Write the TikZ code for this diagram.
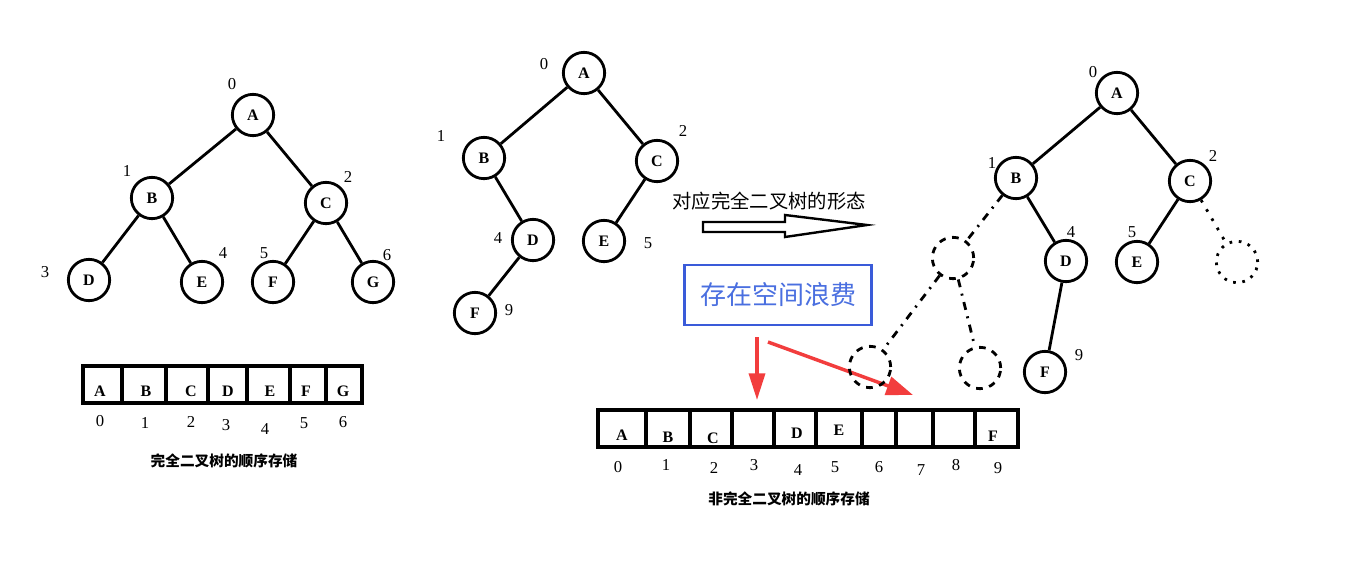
\documentclass[tikz,border=0pt]{standalone}
\usepackage{fontspec}
\setmainfont{Liberation Serif}
\newfontfamily\cjk{Noto Sans CJK SC}
\usetikzlibrary{arrows.meta}
\definecolor{boxblue}{HTML}{3A5BD9}
\definecolor{txtblue}{HTML}{4A6FE0}
\definecolor{warnred}{HTML}{F23D3D}

\tikzset{
  vtx/.style={circle, draw, line width=2.1pt, minimum size=31pt, inner sep=0pt,
    font=\bfseries\fontsize{12}{14}\selectfont},
  ghost/.style={circle, draw, line width=2.1pt, minimum size=31pt, inner sep=0pt,
    dash pattern=on 5pt off 5pt},
  link/.style={line width=2.1pt},
  ghostlink/.style={line width=2.1pt, dash pattern=on 6pt off 5pt on 1.5pt off 5pt},
  idx/.style={font=\fontsize{12.5}{14}\selectfont, inner sep=0pt},
  cellval/.style={font=\bfseries\fontsize{12}{14}\selectfont, inner sep=0pt},
  captxt/.style={font=\cjk\bfseries\fontsize{11}{13}\selectfont},
  arr/.style={line width=2.4pt},
  redarrow/.style={draw=warnred, line width=2.6pt}
}

\begin{document}
\begin{tikzpicture}[x=0.75pt, y=-0.75pt]
  \fill[white] (0,0) rectangle (1348,564);
  \useasboundingbox (0,0) rectangle (1348,564);

  % complete tree
  \node[vtx] (lA) at (253,115) {A};
  \node[vtx] (lB) at (152,198) {B};
  \node[vtx] (lC) at (326,203) {C};
  \node[vtx] (lD) at (89,280) {D};
  \node[vtx] (lE) at (202,282) {E};
  \node[vtx] (lF) at (273,282) {F};
  \node[vtx] (lG) at (373,282) {G};
  \draw[link] (lA) -- (lB);
  \draw[link] (lA) -- (lC);
  \draw[link] (lB) -- (lD);
  \draw[link] (lB) -- (lE);
  \draw[link] (lC) -- (lF);
  \draw[link] (lC) -- (lG);
  \node[idx] (ln0) at (232,84) {0};
  \node[idx] (ln1) at (127,171) {1};
  \node[idx] (ln2) at (348,177) {2};
  \node[idx] (ln3) at (45,272) {3};
  \node[idx] (ln4) at (223,253) {4};
  \node[idx] (ln5) at (264,253) {5};
  \node[idx] (ln6) at (387,255) {6};

  % its array
  \foreach \a/\b in {83/122,122/166,166/208,208/247,247/290,290/326,326/362}
    \draw[arr] (\a,366) rectangle (\b,403);
  \foreach \x/\v/\n in {100/A/0,146/B/1,191/C/2,228/D/3,270/E/4,306/F/5,343/G/6}
    \node[cellval] (lv\n) at (\x,391) {\v};
  \foreach \x/\y/\n in {100/421/0,145/423/1,191/422/2,226/425/3,265/429/4,304/423/5,343/422/6}
    \node[idx] (lk\n) at (\x,\y) {\n};
  \node[captxt] (lcap) at (224,461) {完全二叉树的顺序存储};

  % incomplete tree
  \node[vtx] (mA) at (584,73) {A};
  \node[vtx] (mB) at (484,158) {B};
  \node[vtx] (mC) at (657,161) {C};
  \node[vtx] (mD) at (533,240) {D};
  \node[vtx] (mE) at (604,241) {E};
  \node[vtx] (mF) at (475,313) {F};
  \draw[link] (mA) -- (mB);
  \draw[link] (mA) -- (mC);
  \draw[link] (mB) -- (mD);
  \draw[link] (mC) -- (mE);
  \draw[link] (mD) -- (mF);
  \node[idx] (mn0) at (544,64) {0};
  \node[idx] (mn1) at (441,136) {1};
  \node[idx] (mn2) at (683,131) {2};
  \node[idx] (mn4) at (498,238) {4};
  \node[idx] (mn5) at (648,243) {5};
  \node[idx] (mn9) at (509,310) {9};

  % hollow arrow and its text
  \node[font=\cjk\fontsize{14.5}{17}\selectfont] (form) at (769,201) {对应完全二叉树的形态};
  \draw[line width=1.8pt] (703,222) -- (785,222) -- (785,215) -- (867,225)
    -- (785,237) -- (785,232) -- (703,232) -- cycle;

  % waste note
  \node[draw=boxblue, line width=2.2pt, minimum width=140pt, minimum height=45pt,
    text=txtblue, font=\cjk\fontsize{19.5}{23}\selectfont] (waste) at (778,295) {存在空间浪费};
  \coordinate (w1) at (757,337);
  \coordinate (w2) at (757,400);
  \coordinate (w3) at (768,342);
  \coordinate (w4) at (913,395);
  \draw[redarrow, -{Triangle[length=20pt, width=12pt]}] (w1) -- (w2);
  \draw[redarrow, -{Triangle[length=20pt, width=14pt]}] (w3) -- (w4);

  % its array
  \foreach \a/\b in {598/646,646/690,690/732,732/774,774/816,816/862,862/896,896/933,933/975,975/1018}
    \draw[arr] (\a,410) rectangle (\b,447);
  \foreach \x/\y/\v/\n in {622/435/A/0,668/437/B/1,713/438/C/2,797/433/D/4,839/430/E/5,993/436/F/9}
    \node[cellval] (mv\n) at (\x,\y) {\v};
  \foreach \x/\y/\n in {618/467/0,666/465/1,714/468/2,754/465/3,798/470/4,835/467/5,879/467/6,921/470/7,956/465/8,998/468/9}
    \node[idx] (mk\n) at (\x,\y) {\n};
  \node[captxt] (mcap) at (789,499) {非完全二叉树的顺序存储};

  % filled-up tree
  \node[vtx] (rA) at (1117,93) {A};
  \node[vtx] (rB) at (1016,178) {B};
  \node[vtx] (rC) at (1190,181) {C};
  \node[vtx] (rD) at (1066,261) {D};
  \node[vtx] (rE) at (1137,262) {E};
  \node[vtx] (rF) at (1045,372) {F};
  \node[ghost] (g1) at (953,258) {};
  \node[ghost] (g2) at (870,367) {};
  \node[ghost] (g3) at (980,368) {};
  \node[ghost, dash pattern=on 2pt off 5pt] (g4) at (1237,262) {};
  \draw[link] (rA) -- (rB);
  \draw[link] (rA) -- (rC);
  \draw[link] (rB) -- (rD);
  \draw[link] (rC) -- (rE);
  \draw[link] (rD) -- (rF);
  \draw[ghostlink] (rB) -- (g1);
  \draw[ghostlink] (g1) -- (g2);
  \draw[ghostlink] (g1) -- (g3);
  \draw[ghostlink, dash pattern=on 2pt off 6pt] (rC) -- (g4);
  \node[idx] (rn0) at (1093,72) {0};
  \node[idx] (rn1) at (992,163) {1};
  \node[idx] (rn2) at (1213,156) {2};
  \node[idx] (rn4) at (1071,232) {4};
  \node[idx] (rn5) at (1132,232) {5};
  \node[idx] (rn9) at (1079,355) {9};
\end{tikzpicture}
\end{document}
